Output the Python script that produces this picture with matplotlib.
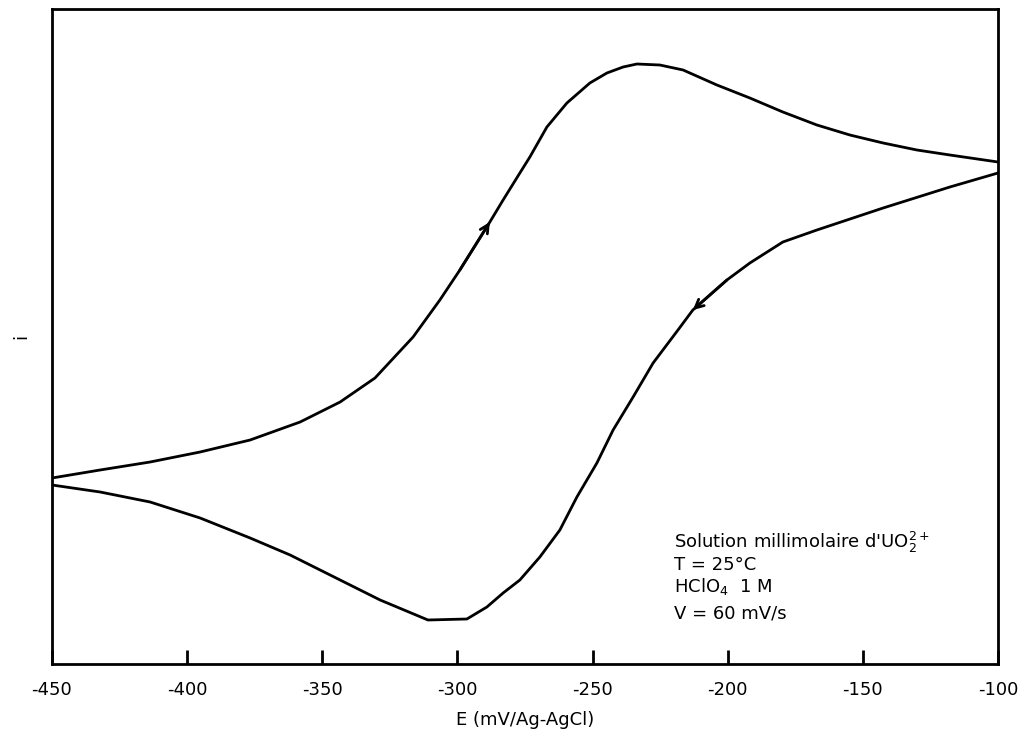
import numpy as np
import matplotlib
matplotlib.use('Agg')
import matplotlib.pyplot as plt

plt.rcParams['font.family'] = ['DejaVu Sans']
plt.rcParams['mathtext.fontset'] = 'dejavusans'

# forward scan (oxidation), -450 -> -100 mV
E_fwd = [-450, -432.2, -413.7, -395.2, -376.7, -358.2, -343.4, -330.5, -316.4,
         -306.5, -299.1, -288.0, -283.1, -276.9, -273.2, -266.9, -259.5, -251.0,
         -244.7, -238.7, -233.6, -225.1, -216.5, -204.0, -191.8, -179.6, -167.0,
         -154.8, -142.5, -130.0, -117.8, -100]
i_fwd = [186, 194, 202, 212, 224, 242, 262, 286, 327,
         364, 394, 442, 464, 491, 507, 537, 561, 581,
         591, 597, 600, 599, 594, 579, 566, 552, 539,
         529, 521, 514, 509, 502]

# reverse scan (reduction), -100 -> -450 mV
E_rev = [-100, -117.8, -142.5, -167.0, -179.6, -191.8, -200.3, -212.9, -218.4,
         -227.6, -235.0, -242.4, -248.4, -255.8, -262.1, -269.5, -276.9, -283.1,
         -289.1, -296.5, -310.9, -328.6, -347.1, -361.9, -376.7, -395.2, -413.7,
         -432.2, -450]
i_rev = [491, 477, 456, 434, 422, 401, 384, 354, 334,
         301, 267, 234, 201, 167, 134, 107, 84, 71,
         57, 45, 44, 64, 89, 109, 126, 146, 162,
         172, 179]

x_ticks = [-450, -400, -350, -300, -250, -200, -150, -100]

fig = plt.figure(figsize=(10.25, 7.44), dpi=100)
ax = fig.add_axes([52 / 1025, 1 - 664 / 744, 946 / 1025, 655 / 744])

lw = 2.0
ax.plot(E_fwd, i_fwd, color='black', lw=lw)
ax.plot(E_rev, i_rev, color='black', lw=lw)

# direction arrows on each branch
for E, i, k in [(E_fwd, i_fwd, 11), (E_rev, i_rev, 7)]:
    ax.annotate('', xy=(E[k], i[k]), xytext=(E[k - 1], i[k - 1]),
                arrowprops=dict(arrowstyle='->,head_length=0.6,head_width=0.3',
                                color='black', lw=lw, shrinkA=0, shrinkB=0))

ax.set_xlim(-450, -100)
ax.set_ylim(0, 655)
ax.set_xticks(x_ticks)
ax.set_xticklabels([str(t) for t in x_ticks], fontsize=13)
ax.set_yticks([])
ax.tick_params(axis='x', direction='in', length=10, width=lw, pad=12)
for s in ax.spines.values():
    s.set_linewidth(lw)

ax.set_xlabel('E (mV/Ag-AgCl)', fontsize=13, labelpad=9)
ax.set_ylabel('i', fontsize=13, labelpad=16)

lines = ["Solution millimolaire d'UO$_2^{2+}$",
         'T = 25°C',
         'HClO$_4$  1 M',
         'V = 60 mV/s']
baselines = [116, 94, 72, 45]
for t, b in zip(lines, baselines):
    ax.text(-220, b, t, fontsize=13, va='baseline', ha='left')

fig.savefig('out.png', dpi=100)
